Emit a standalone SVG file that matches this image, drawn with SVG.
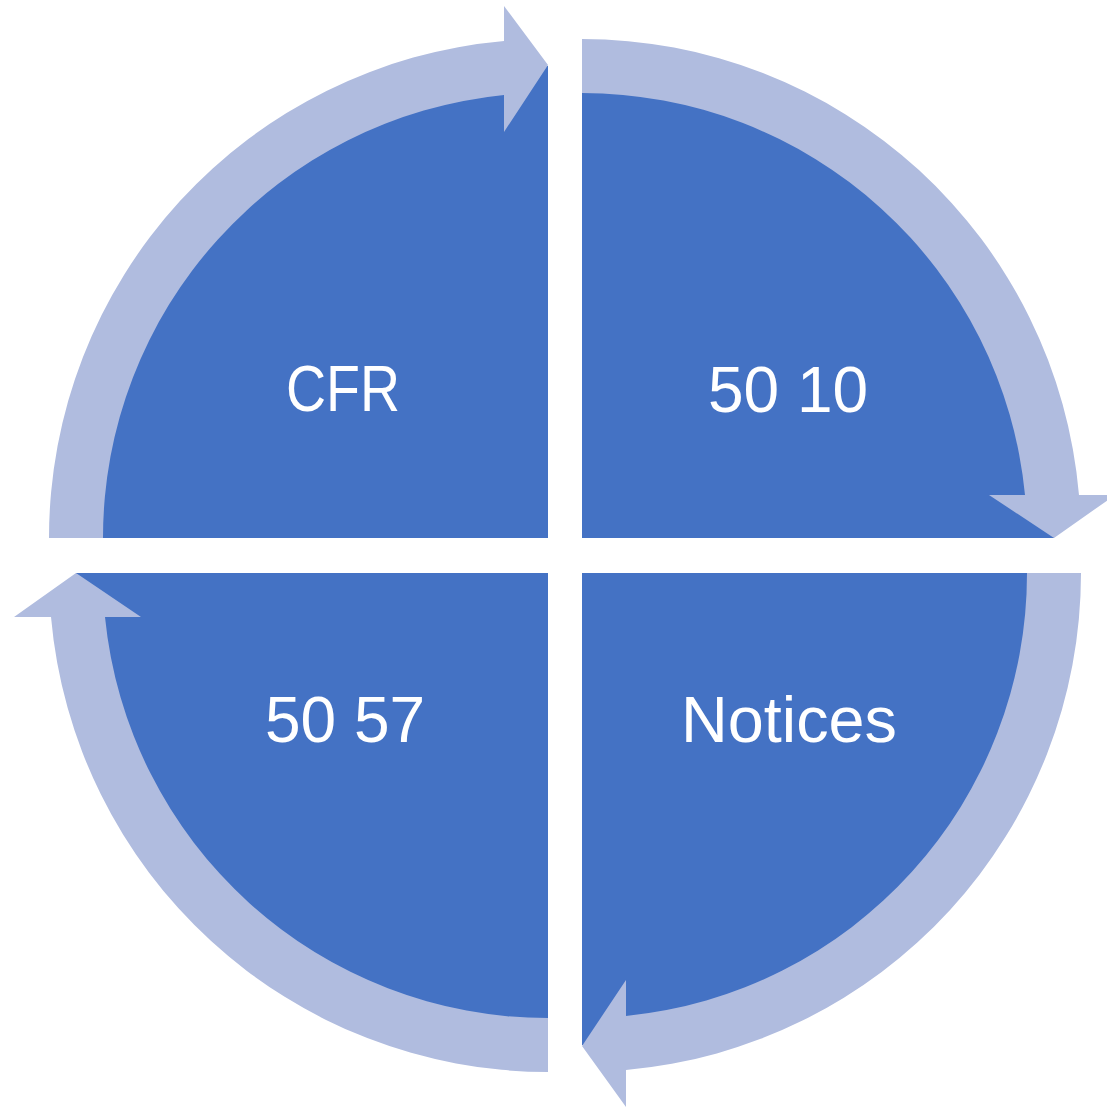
<svg xmlns="http://www.w3.org/2000/svg" width="1107" height="1109" viewBox="0 0 1107 1109">
  <style>
    .pie { fill: #4472C4; }
    .arrow { fill: #B0BCDF; }
    .label { fill: #FFFFFF; font-family: "Liberation Sans", Arial, sans-serif; font-size: 64px; text-anchor: middle; }
  </style>
  <rect width="1107" height="1109" fill="#FFFFFF"/>

  <!-- Quadrant segments -->
  <g id="node-cfr">
    <path class="pie" d="M548,538 L76,538 A472,472 0 0 1 548,66 Z"/>
    <text class="label" x="343" y="411" textLength="114" lengthAdjust="spacingAndGlyphs">CFR</text>
  </g>
  <g id="node-5010">
    <path class="pie" d="M582,538 L582,66 A472,472 0 0 1 1054,538 Z"/>
    <text class="label" x="788" y="412">50 10</text>
  </g>
  <g id="node-notices">
    <path class="pie" d="M582,573 L1054,573 A472,472 0 0 1 582,1045 Z"/>
    <text class="label" x="789" y="742" textLength="216" lengthAdjust="spacingAndGlyphs">Notices</text>
  </g>
  <g id="node-5057">
    <path class="pie" d="M548,573 L548,1045 A472,472 0 0 1 76,573 Z"/>
    <text class="label" x="345" y="742">50 57</text>
  </g>

  <!-- Circular arrows running clockwise around the quadrants -->
  <g id="connectors">
    <path class="arrow" d="M49,538 A499,499 0 0 1 504,41 L504,6 L548,65 L504,132 L504,95 A445,445 0 0 0 103,538 Z"/>
    <path class="arrow" d="M582,39 A499,499 0 0 1 1079,495 L1115,495 L1054,538 L989,495 L1025,495 A445,445 0 0 0 582,93 Z"/>
    <path class="arrow" d="M1081,573 A499,499 0 0 1 626,1070 L626,1107 L582,1046 L626,980 L626,1016 A445,445 0 0 0 1027,573 Z"/>
    <path class="arrow" d="M548,1072 A499,499 0 0 1 51,617 L14,617 L76,573 L141,617 L105,617 A445,445 0 0 0 548,1018 Z"/>
  </g>
</svg>
